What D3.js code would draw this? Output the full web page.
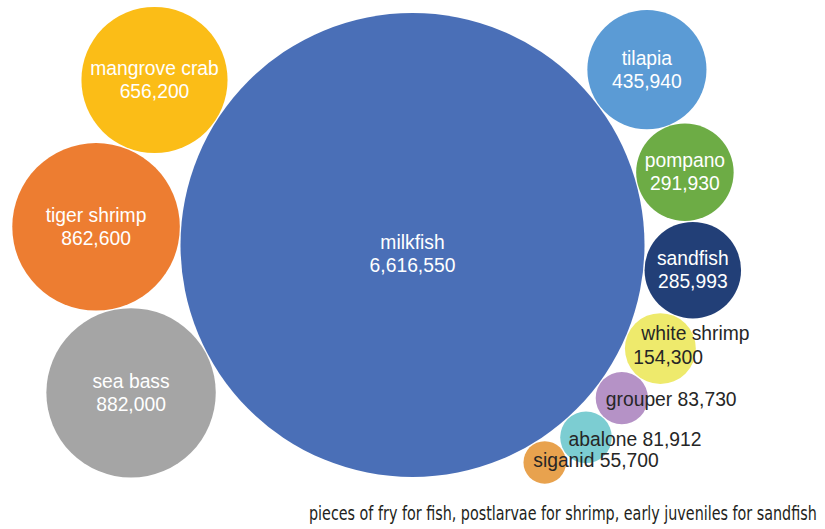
<!DOCTYPE html>
<html>
<head>
<meta charset="utf-8">
<script src="https://cdn.jsdelivr.net/npm/d3@7"></script>
<style>
  html, body { margin: 0; padding: 0; background: #ffffff; }
  svg { display: block; }
</style>
</head>
<body>
<svg id="chart" width="825" height="529"></svg>
<script>
// Hatchery output by species
const species = ["milkfish", "mangrove crab", "tiger shrimp", "sea bass", "tilapia", "pompano",
                 "sandfish", "white shrimp", "grouper", "abalone", "siganid"];
const counts = [6616550, 656200, 862600, 882000, 435940, 291930, 285993, 154300, 83730, 81912, 55700];
const caption = "pieces of fry for fish, postlarvae for shrimp, early juveniles for sandfish";

const palette = ["#4a6fb7", "#fbbd17", "#ed7d31", "#a5a5a5", "#5b9bd5", "#6dac45",
                 "#223f77", "#eeea6c", "#b592c6", "#7ccdd2", "#e8a24e"];

const width = 825, height = 529;
const svg = d3.select("#chart");

const r = d3.scaleSqrt().domain([0, d3.max(counts)]).range([0, 232]);
const color = d3.scaleOrdinal().domain(species).range(palette);
const fmt = d3.format(",");

const nodes = species.map((name, i) => ({ name, value: counts[i], r: r(counts[i]) }));
const byName = new Map(nodes.map(d => [d.name, d]));

// The largest bubble sits in the middle; the others are chained around its rim,
// each one touching the hub and its predecessor.
const hub = nodes[0];
hub.x = width / 2;
hub.y = 13 + hub.r;
const pad = 1.2;

function chain(names, startDeg, dir) {
  let prev = null, angle = startDeg * Math.PI / 180;
  names.forEach(n => {
    const d = byName.get(n);
    const dist = hub.r + d.r + pad;
    if (prev) {
      const dp = hub.r + prev.r + pad;
      const link = prev.r + d.r + pad;
      angle += dir * Math.acos((dp * dp + dist * dist - link * link) / (2 * dp * dist));
    }
    d.x = hub.x + dist * Math.cos(angle);
    d.y = hub.y + dist * Math.sin(angle);
    prev = d;
  });
}
chain(["mangrove crab", "tiger shrimp", "sea bass"], -147.4, -1);
chain(["tilapia", "pompano", "sandfish", "white shrimp", "grouper", "abalone", "siganid"], -36.8, 1);

svg.append("g")
  .selectAll("circle")
  .data(nodes)
  .join("circle")
  .attr("cx", d => d.x)
  .attr("cy", d => d.y)
  .attr("r", d => d.r)
  .attr("fill", d => color(d.name));

// Label placement: big bubbles carry centred white two-line labels,
// the small ones carry dark labels nudged off to the right.
const labelFont = "'Liberation Sans', Arial, Helvetica, sans-serif";
const outside = {
  "white shrimp": { lines: 2, dx: [-19, -27], dy: [-8.5, 15.5] },
  "grouper": { lines: 1, dx: [-16], dy: [7.5] },
  "abalone": { lines: 1, dx: [-17.5], dy: [8.5] },
  "siganid": { lines: 1, dx: [-11.5], dy: [4.5] }
};
const centreShift = { "milkfish": 9 };

const labels = svg.append("g").attr("font-family", labelFont);

nodes.forEach(d => {
  const o = outside[d.name];
  if (o) {
    const txt = o.lines === 2 ? [d.name, fmt(d.value)] : [d.name + " " + fmt(d.value)];
    txt.forEach((t, i) => {
      labels.append("text")
        .attr("x", d.x + o.dx[i])
        .attr("y", d.y + o.dy[i])
        .attr("fill", "#262626")
        .attr("font-size", 19.3)
        .attr("text-anchor", "start")
        .text(t);
    });
  } else {
    const shift = centreShift[d.name] || 0;
    [d.name, fmt(d.value)].forEach((t, i) => {
      labels.append("text")
        .attr("x", d.x)
        .attr("y", d.y - 5 + shift + i * 23)
        .attr("fill", "#ffffff")
        .attr("font-size", 19.3)
        .attr("text-anchor", "middle")
        .text(t);
    });
  }
});

// Caption in a condensed face, squeezed horizontally to its line width.
const captionWidth = 508;
const cap = svg.append("text")
  .attr("font-family", "'Liberation Sans Narrow', 'DejaVu Sans Condensed', sans-serif")
  .attr("font-size", 19.5)
  .attr("fill", "#231f20")
  .text(caption);
const natural = cap.node().getComputedTextLength();
cap.attr("transform", `translate(309,520) scale(${captionWidth / natural},1)`);
</script>
</body>
</html>
